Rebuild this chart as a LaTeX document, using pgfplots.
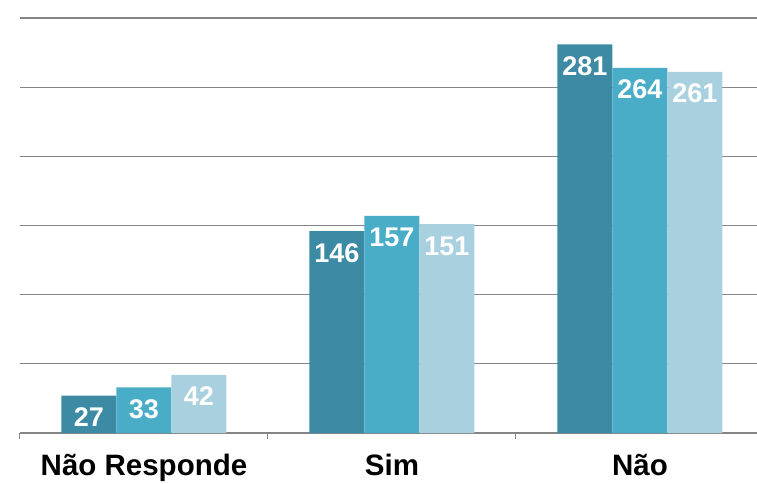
\documentclass[border=0pt]{standalone}
\usepackage{pgfplots}
\pgfplotsset{compat=1.18}
\usepackage{fontspec}
\setmainfont{Liberation Sans}
\definecolor{c1}{HTML}{3C8AA4}
\definecolor{c2}{HTML}{4AADC8}
\definecolor{c3}{HTML}{A9D0DF}
\definecolor{gridc}{HTML}{858585}
\begin{document}
\begin{tikzpicture}[x=1pt,y=1pt]
\path[use as bounding box] (0,0) rectangle (757,483);
\begin{axis}[at={(20pt,50pt)}, anchor=south west, scale only axis,
  width=737pt, height=415pt,
  ybar=0pt, bar width=55pt,
  xmin=-0.5, xmax=2.472, ymin=0, ymax=300,
  ytick={50,100,...,300}, yticklabels={}, ymajorgrids,
  grid style={gridc, line width=1.3pt},
  axis x line*=bottom, axis y line*=left,
  y axis line style={draw=none}, ytick style={draw=none},
  x axis line style={gridc, line width=1.5pt, -},
  xtick={0,1,2}, xticklabels={Não Responde, Sim, Não},
  xtick style={draw=gridc, line width=1pt},
  major tick length=0pt, tick align=outside,
  extra x ticks={-0.5,0.5,1.5}, extra x tick labels={},
  extra x tick style={major tick length=6pt},
  xticklabel style={font=\bfseries\fontsize{29.5}{31}\selectfont, anchor=base, yshift=-42pt},
  /pgf/number format/assume math mode=true,
  nodes near coords,
  nodes near coords style={anchor=base, yshift=-31pt, white, inner sep=0pt, font=\bfseries\fontsize{27}{28}\selectfont},
]
\addplot[fill=c1, draw=none] coordinates {(0,27) (1,146) (2,281)};
\addplot[fill=c2, draw=none] coordinates {(0,33) (1,157) (2,264)};
\addplot[fill=c3, draw=none] coordinates {(0,42) (1,151) (2,261)};
\end{axis}
\end{tikzpicture}
\end{document}
